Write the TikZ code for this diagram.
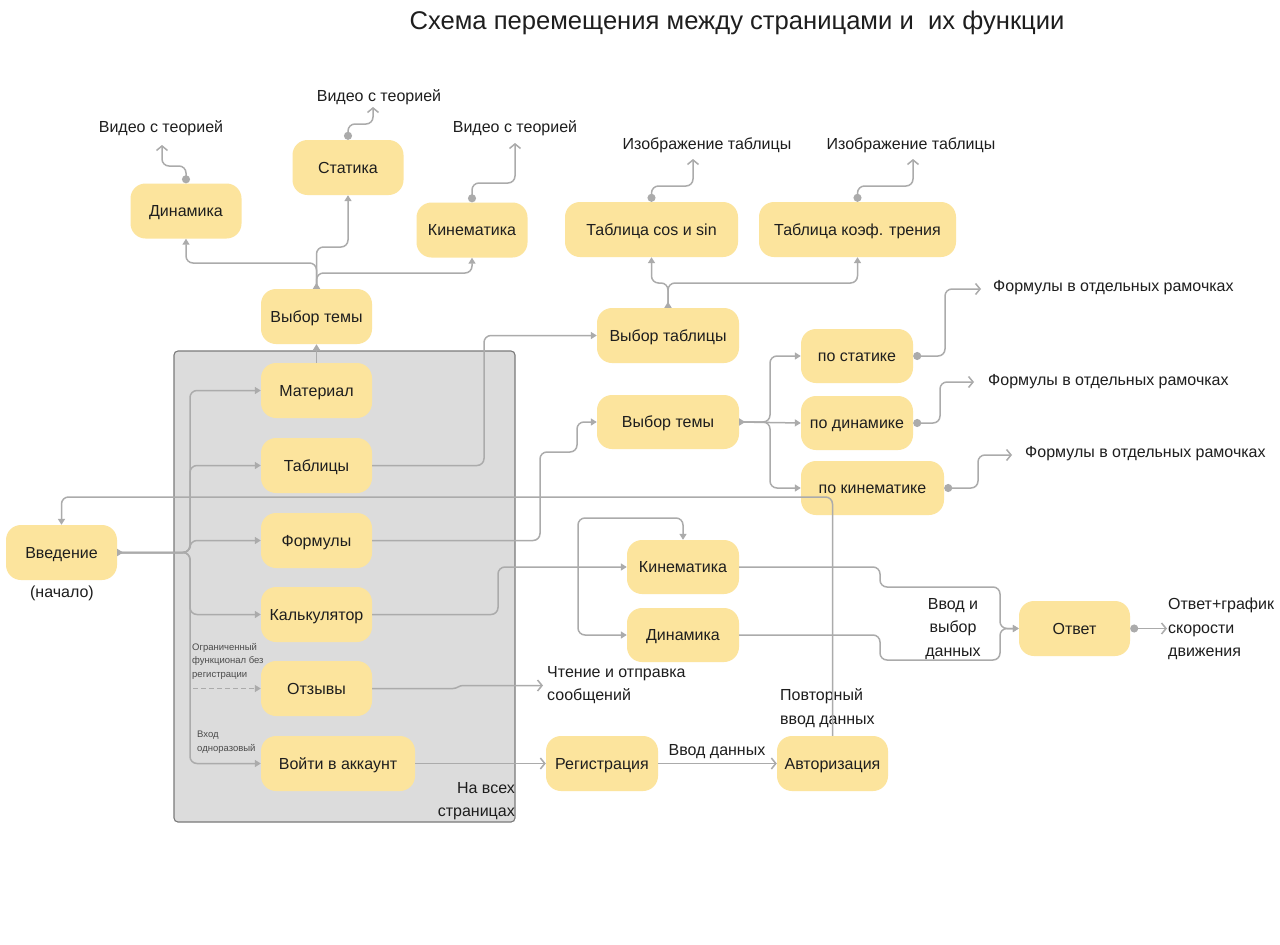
\documentclass[tikz,border=0pt]{standalone}
\usepackage{fontspec}
\setmainfont{Liberation Sans}
\usetikzlibrary{arrows.meta}
\definecolor{boxy}{HTML}{FCE49D}
\definecolor{lgray}{HTML}{ABABAB}
\definecolor{panel}{HTML}{DCDCDC}
\definecolor{panelb}{HTML}{7A7A7A}
\definecolor{txt}{HTML}{1E1E1E}
\tikzset{
  box/.style={fill=boxy, rounded corners=15pt, minimum width=111pt, minimum height=55pt, inner sep=2pt, text height=11.5pt, text depth=0.5pt, text=txt, font=\fontsize{16}{19}\selectfont},
  lbl/.style={text=txt, inner sep=0pt, font=\fontsize{16}{23.5}\selectfont},
  tiny/.style={text=txt!80, inner sep=0pt, align=left, font=\fontsize{9.5}{13.5}\selectfont},
  conn/.style={draw=lgray, line width=1.5pt, rounded corners=7pt},
  fa/.style={arrows={-Triangle[length=6pt,width=7pt]}},
  oa/.style={arrows={-Straight Barb[length=4.5pt,width=11pt]}},
  dotoa/.style={arrows={Circle[length=8pt]-Straight Barb[length=4.5pt,width=11pt]}},
  trfa/.style={arrows={Triangle[reversed,length=6pt,width=7pt]-Triangle[length=6pt,width=7pt]}},
  dblfa/.style={arrows={Triangle[length=6pt,width=7pt]-Triangle[length=6pt,width=7pt]}},
}
\begin{document}
\begin{tikzpicture}[x=1pt,y=-1pt]
\useasboundingbox (0,0) rectangle (1280,945);
\fill[white] (0,0) rectangle (1280,945);

% title
\node[text=txt, inner sep=0pt, font=\fontsize{25.6}{30}\selectfont] (title) at (737,23) {Схема перемещения между страницами и \ их функции};

% grey panel
\draw[fill=panel, draw=panelb, line width=1.1pt, rounded corners=4pt] (174,351) rectangle (515,822);

% nodes
\node[box] (dyn1) at (186,211) {Динамика};
\node[box] (stat) at (348,167.5) {Статика};
\node[box] (kin1) at (472,230) {Кинематика};
\node[box] (vt1) at (316.5,316.5) {Выбор темы};
\node[box, minimum width=173pt] (tcos) at (651.5,229.5) {Таблица cos и sin};
\node[box, minimum width=197pt] (ttr) at (857.5,229.5) {Таблица коэф. трения};
\node[box, minimum width=142pt] (vtab) at (668,335.5) {Выбор таблицы};
\node[box, minimum width=112pt, minimum height=54pt] (pst) at (857,356) {по статике};
\node[box, minimum width=112pt, minimum height=54pt] (pdyn) at (857,423) {по динамике};
\node[box, minimum width=143pt, minimum height=54pt] (pkin) at (872.5,488) {по кинематике};
\node[box, minimum width=142pt, minimum height=54pt] (vt2) at (668,422) {Выбор темы};
\node[box] (mat) at (316.5,390.5) {Материал};
\node[box] (tab) at (316.5,465.5) {Таблицы};
\node[box] (form) at (316.5,540.5) {Формулы};
\node[box] (calc) at (316.5,614.5) {Калькулятор};
\node[box] (otz) at (316.5,688.5) {Отзывы};
\node[box, minimum width=154pt] (login) at (338,763.5) {Войти в аккаунт};
\node[box] (intro) at (61.5,552.5) {Введение};
\node[box, minimum width=112pt, minimum height=54pt] (kin2) at (683,567) {Кинематика};
\node[box, minimum width=112pt, minimum height=54pt] (dyn2) at (683,635) {Динамика};
\node[box] (ans) at (1074.5,628.5) {Ответ};
\node[box, minimum width=112pt] (reg) at (602,763.5) {Регистрация};
\node[box] (auth) at (832.5,763.5) {Авторизация};

% free ends
\coordinate (e1) at (162,145);
\coordinate (e2) at (373,107);
\coordinate (e3) at (515,143);
\coordinate (e4) at (693,159);
\coordinate (e5) at (913,159);
\coordinate (e6) at (981,289);
\coordinate (e7) at (974,382);
\coordinate (e8) at (1012,455);
\coordinate (e9) at (543,685.5);
\coordinate (e10) at (1167,628.5);
\coordinate (ds) at (193,688.5);

% labels
\node[lbl] (l1) at (161,128) {Видео с теорией};
\node[lbl] (l2) at (379,97) {Видео с теорией};
\node[lbl] (l3) at (515,128) {Видео с теорией};
\node[lbl] (l4) at (707,145) {Изображение таблицы};
\node[lbl] (l5) at (911,145) {Изображение таблицы};
\node[lbl, anchor=west] (l6) at (993,288) {Формулы в отдельных рамочках};
\node[lbl, anchor=west] (l7) at (988,382) {Формулы в отдельных рамочках};
\node[lbl, anchor=west] (l8) at (1025,454) {Формулы в отдельных рамочках};
\node[lbl] (l9) at (62,593) {(начало)};
\node[lbl, align=left, anchor=west] (l10) at (547,685) {Чтение и отправка\\сообщений};
\node[lbl, align=left, anchor=west] (l11) at (780,708) {Повторный\\ввод данных};
\node[lbl] (l12) at (717,752) {Ввод данных};
\node[lbl, align=right, anchor=east] (l13) at (515,801) {На всех\\страницах};
\node[lbl, align=center] (l14) at (953,629) {Ввод и\\выбор\\данных};
\node[lbl, align=left, anchor=west] (l15) at (1168,629) {Ответ+график\\скорости\\движения};
\node[tiny, anchor=north west] (l16) at (192,643) {Ограниченный\\функционал без\\регистрации};
\node[tiny, anchor=north west] (l17) at (197,731) {Вход\\одноразовый};

% connectors: top-left tree
\draw[conn, trfa] (vt1.north) -- (316.5,263) -| (dyn1.south);
\draw[conn, fa] (vt1.north) -- (316.5,247) -| (stat.south);
\draw[conn, fa] (vt1.north) -- (316.5,273) -| (kin1.south);
\draw[conn, fa] (mat.north) -- (vt1.south);
\draw[conn, dotoa] (dyn1.north) -- (186,166) -| (e1);
\draw[conn, dotoa] (stat.north) -- (348,124) -| (e2);
\draw[conn, dotoa] (kin1.north) -- (472,183) -| (e3);

% tables
\draw[conn, trfa] (vtab.north) -- (668,283) -| (tcos.south);
\draw[conn, fa] (vtab.north) -- (668,283) -| (ttr.south);
\draw[conn, dotoa] (tcos.north) -- (651.5,186) -| (e4);
\draw[conn, dotoa] (ttr.north) -- (857.5,186) -| (e5);

% from panel
\draw[conn, fa] (tab.east) -- (484,465.5) |- (vtab.west);
\draw[conn, fa] (form.east) -- (540,540.5) |- (577,452) |- (vt2.west);
\draw[conn, fa] (calc.east) -- (498,614.5) |- (kin2.west);

% themes right
\draw[conn, trfa] (vt2.east) -- (770,422) |- (pst.west);
\draw[conn, fa] (vt2.east) -- (pdyn.west);
\draw[conn, fa] (vt2.east) -- (770,422) |- (pkin.west);
\draw[conn, dotoa] (pst.east) -- (945,356) |- (e6);
\draw[conn, dotoa] (pdyn.east) -- (940,423) |- (e7);
\draw[conn, dotoa] (pkin.east) -- (978,488) |- (e8);

% intro fan
\draw[conn, trfa] (intro.east) -- (190,552.5) |- (mat.west);
\draw[conn, fa] (intro.east) -- (190,552.5) |- (tab.west);
\draw[conn, fa] (intro.east) -- (190,552.5) |- (form.west);
\draw[conn, fa] (intro.east) -- (190,552.5) |- (calc.west);
\draw[conn, fa] (intro.east) -- (190,552.5) |- (login.west);
\draw[draw=lgray, line width=1.3pt, dash pattern=on 5pt off 3pt, fa] (ds) -- (otz.west);

% bottom
\draw[draw=lgray, line width=1.5pt, oa] (otz.east) -- (453,688.5) to[out=0,in=180] (463,685.5) -- (e9);
\draw[conn, oa] (login.east) -- (reg.west);
\draw[conn, oa] (reg.east) -- (auth.west);
\draw[conn, fa] (auth.north) -- (832.5,497) -| (intro.north);

% loop kin2 / dyn2
\draw[conn, dblfa] (kin2.north) |- (578,518) |- (dyn2.west);

% to answer
\draw[conn, fa] (kin2.east) -- (880,567) |- (1000,587) |- (ans.west);
\draw[conn, fa] (dyn2.east) -- (880,635) |- (1000,660) |- (ans.west);
\draw[conn, dotoa] (ans.east) -- (e10);
\end{tikzpicture}
\end{document}
